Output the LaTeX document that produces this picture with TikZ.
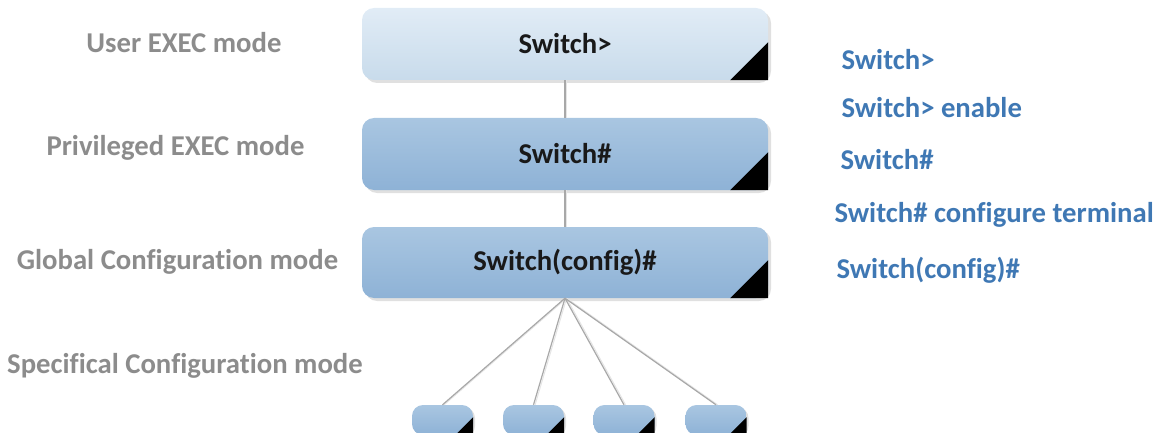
\documentclass[tikz,border=0pt]{standalone}
\usepackage{fontspec}
\setmainfont[Ligatures=NoCommon]{Carlito}
\usetikzlibrary{shadows}
\definecolor{lblgray}{HTML}{8C8C8C}
\definecolor{cmdblue}{HTML}{3F78B4}
\definecolor{lighttop}{HTML}{E1ECF6}
\definecolor{lightbot}{HTML}{C8DBEB}
\definecolor{midtop}{HTML}{A9C6E1}
\definecolor{midbot}{HTML}{8EB2D6}
\definecolor{linkgray}{HTML}{A8A8A8}
\tikzset{
  txt/.style={font=\fontsize{28.7}{34}\selectfont\bfseries},
  modelabel/.style={txt, text=lblgray, anchor=center},
  cmd/.style={txt, text=cmdblue, anchor=west},
  modebox/.style={rectangle, rounded corners=12pt, minimum width=406pt,
    minimum height=72pt, inner sep=0pt, txt, text=black!90,
    general shadow={shadow xshift=3pt, shadow yshift=-3pt, fill=black!12}},
  lightbox/.style={modebox, top color=lighttop, bottom color=lightbot},
  darkbox/.style={modebox, top color=midtop, bottom color=midbot},
  subbox/.style={rectangle, rounded corners=11pt, minimum width=61pt,
    minimum height=30pt, inner sep=0pt, top color=midtop, bottom color=midbot,
    general shadow={shadow xshift=2pt, shadow yshift=-2pt, fill=black!12}},
  link/.style={draw=linkgray, line width=1.2pt,
    preaction={draw=black!10, line width=1pt, transform canvas={xshift=1.6pt}}},
}
% black corner mark in the lower right of a box
\newcommand{\cornermark}[2]{%
  \fill[black] (#1.south east) -- ++(-#2,0) -- ++(#2,-#2) -- cycle;}
\begin{document}
\begin{tikzpicture}[x=1pt, y=-1pt]
  \useasboundingbox (0,0) rectangle (1164,433);
  \clip (0,0) rectangle (1164,433);

  % mode boxes
  \node[lightbox] (user) at (565,44) {Switch>};
  \node[darkbox] (priv) at (565,154) {Switch\#};
  \node[darkbox, minimum height=71pt] (glob) at (565,262.5) {Switch(config)\#};
  \cornermark{user}{38}
  \cornermark{priv}{38}
  \cornermark{glob}{38}

  % sub-configuration boxes
  \node[subbox] (s1) at (442.5,420) {};
  \node[subbox] (s2) at (533.5,420) {};
  \node[subbox] (s3) at (624,420) {};
  \node[subbox] (s4) at (716,420) {};
  \foreach \s in {s1,s2,s3,s4} {\cornermark{\s}{18}}

  % connectors
  \draw[link] (user.south) -- (priv.north);
  \draw[link] (priv.south) -- (glob.north);
  \foreach \s in {s1,s2,s3,s4} {\draw[link] (glob.south) -- (\s.north);}

  % mode names
  \node[modelabel] (l1) at (184,43) {User EXEC mode};
  \node[modelabel] (l2) at (175.5,148) {Privileged EXEC mode};
  \node[modelabel] (l3) at (177.5,262) {Global Configuration mode};
  \node[modelabel] (l4) at (185,366) {Specifical Configuration mode};

  % commands
  \node[cmd] (c1) at (838,60) {Switch>};
  \node[cmd] (c2) at (838,108) {Switch> enable};
  \node[cmd] (c3) at (837,160) {Switch\#};
  \node[cmd] (c4) at (831,215) {Switch\# configure terminal};
  \node[cmd] (c5) at (833,270) {Switch(config)\#};
\end{tikzpicture}
\end{document}
